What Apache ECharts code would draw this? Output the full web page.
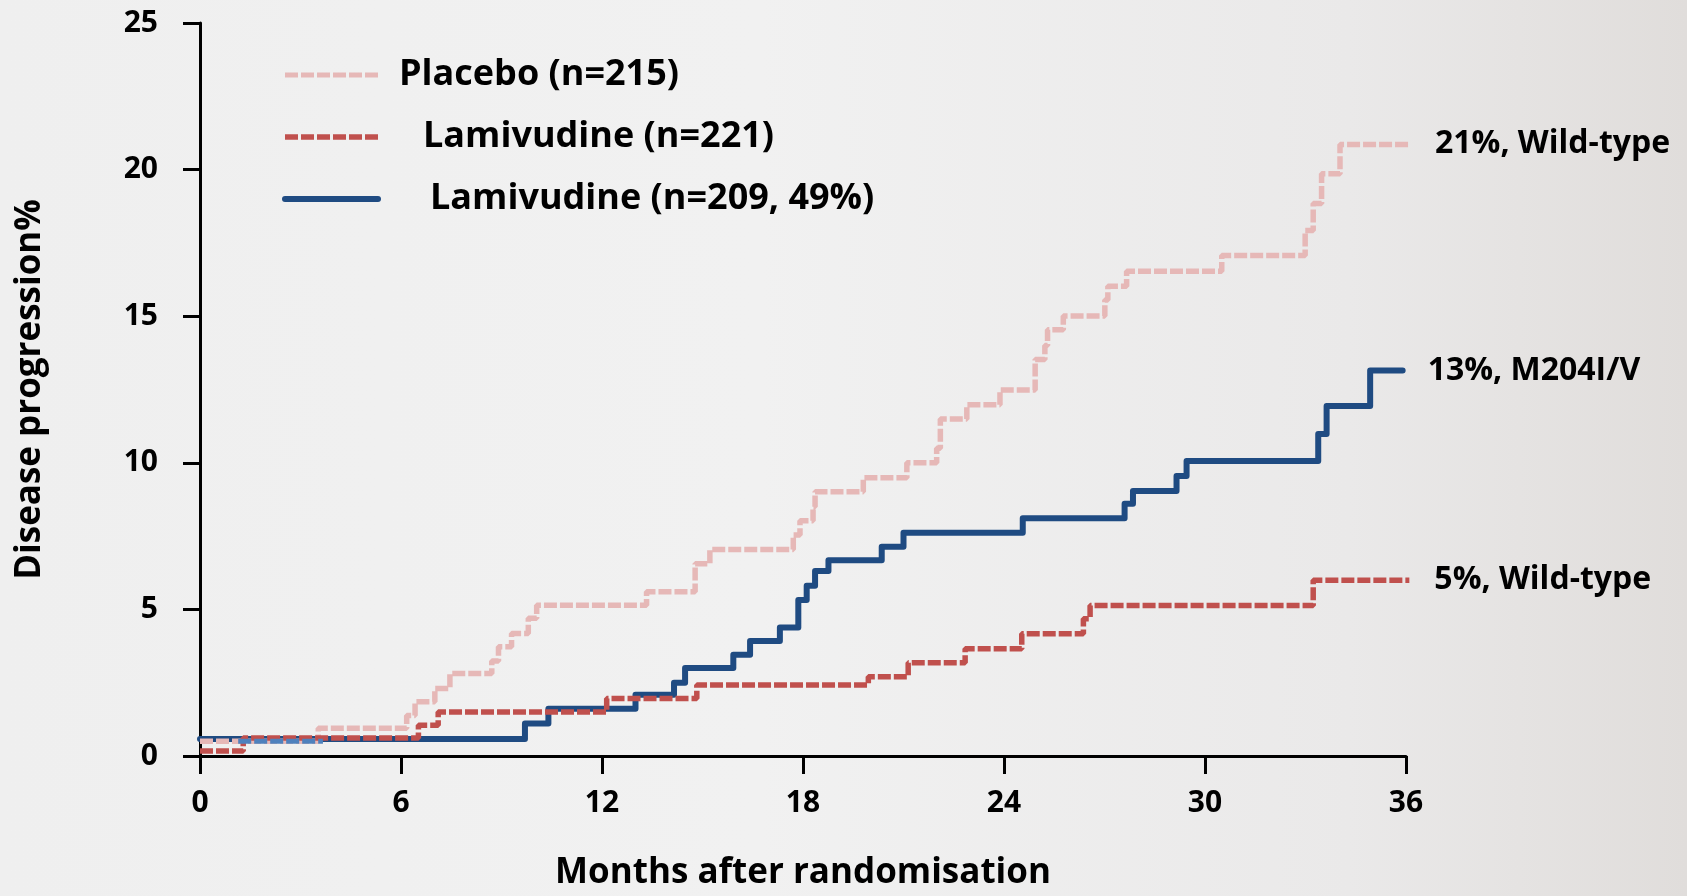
<!DOCTYPE html>
<html>
<head>
<meta charset="utf-8">
<script src="https://cdn.jsdelivr.net/npm/echarts@6/dist/echarts.min.js"></script>
<style>
  html, body { margin: 0; padding: 0; width: 1687px; height: 896px; overflow: hidden;
    background: linear-gradient(90deg, #efefef 0%, #f1f1f1 45%, #eae9e9 80%, #e0dddb 100%); }
  #chart { width: 1687px; height: 896px; }
</style>
</head>
<body>
<div id="chart"></div>
<script>
// ---- data ----
const xTicks = [0, 6, 12, 18, 24, 30, 36];
const yTicks = [0, 5, 10, 15, 20, 25];

const placeboName = 'Placebo (n=215)';
const placeboT = [0, 3.53, 6.17, 6.42, 7.01, 7.46, 8.71, 8.91, 9.30, 9.80, 10.05, 13.33, 14.78, 15.22, 17.71, 17.91, 18.30, 18.36, 19.80, 21.10, 21.99, 22.10, 22.89, 23.88, 24.93, 25.22, 25.30, 25.77, 27.01, 27.10, 27.66, 30.50, 32.99, 33.23, 33.48, 34.03, 36.2];
const placeboV = [0.50, 0.95, 1.38, 1.85, 2.30, 2.81, 3.24, 3.73, 4.18, 4.70, 5.14, 5.60, 6.56, 7.04, 7.54, 8.02, 8.50, 9.01, 9.49, 10.00, 10.50, 11.49, 11.98, 12.48, 13.52, 14.00, 14.54, 15.01, 15.55, 16.02, 16.53, 17.07, 17.92, 18.84, 19.86, 20.86, 20.86];

const lamWtName = 'Lamivudine (n=221)';
const lamWtT = [0, 1.29, 6.52, 7.11, 12.14, 14.83, 19.95, 21.14, 22.84, 24.53, 26.37, 26.57, 33.23, 36.1];
const lamWtV = [0.17, 0.61, 1.05, 1.50, 1.96, 2.42, 2.70, 3.18, 3.66, 4.17, 4.68, 5.13, 5.99, 5.99];

const lamMutName = 'Lamivudine (n=209, 49%)';
const lamMutT = [0, 9.70, 10.40, 13.00, 14.15, 14.48, 15.92, 16.42, 17.31, 17.86, 18.11, 18.36, 18.76, 20.35, 21.00, 24.56, 27.60, 27.85, 29.15, 29.45, 33.38, 33.63, 34.93, 35.9];
const lamMutV = [0.58, 1.11, 1.61, 2.09, 2.50, 3.00, 3.45, 3.92, 4.38, 5.32, 5.81, 6.31, 6.68, 7.14, 7.61, 8.11, 8.60, 9.04, 9.55, 10.06, 10.98, 11.94, 13.15, 13.15];

const lightT = [1.14, 3.67];
const lightV = [0.50, 0.50];

const endLabels = { placebo: '21%, Wild-type', lamMut: '13%, M204I/V', lamWt: '5%, Wild-type' };

// ---- chart ----
const FONT = "'Open Sans', 'Liberation Sans', sans-serif";
const zip = (t, v) => t.map((x, i) => [x, v[i]]);
const endLabel = (txt) => ({ show: true, formatter: txt, color: '#000', fontSize: 32, fontWeight: 'bold', fontFamily: FONT, distance: 25 });

const chart = echarts.init(document.getElementById('chart'), null, { renderer: 'canvas' });
const pads = {}; pads[placeboName] = 16; pads[lamWtName] = 40; pads[lamMutName] = 47;
const richKeys = {}; richKeys[placeboName] = 'a'; richKeys[lamWtName] = 'b'; richKeys[lamMutName] = 'c';
const richBase = { fontSize: 36, fontWeight: 'bold', fontFamily: FONT, color: '#000', lineHeight: 40 };

chart.setOption({
  animation: false,
  backgroundColor: 'transparent',
  grid: { left: 200, right: 281, top: 23, bottom: 132, containLabel: false },
  legend: {
    data: [
      { name: placeboName, lineStyle: { width: 5 } },
      { name: lamWtName, lineStyle: { width: 5.5 } },
      { name: lamMutName, lineStyle: { width: 6 } }
    ],
    orient: 'vertical', left: 277, top: 50,
    itemWidth: 93, itemHeight: 14, itemGap: 22,
    itemStyle: { opacity: 0 },
    formatter: (name) => '{' + richKeys[name] + '|' + name + '}',
    textStyle: {
      fontSize: 36, fontWeight: 'bold', fontFamily: FONT, color: '#000', lineHeight: 40,
      rich: {
        a: Object.assign({ padding: [0, 0, 0, pads[placeboName]] }, richBase),
        b: Object.assign({ padding: [0, 0, 0, pads[lamWtName]] }, richBase),
        c: Object.assign({ padding: [0, 0, 0, pads[lamMutName]] }, richBase)
      }
    },
    selectedMode: false
  },
  xAxis: {
    type: 'value', min: 0, max: 36, interval: 6,
    name: 'Months after randomisation', nameLocation: 'middle', nameGap: 100,
    nameTextStyle: { fontSize: 35, fontWeight: 'bold', fontFamily: FONT, color: '#000' },
    axisLine: { show: true, onZero: false, lineStyle: { color: '#000', width: 3 } },
    axisTick: { show: true, inside: false, length: 18, lineStyle: { color: '#000', width: 3 } },
    axisLabel: { margin: 32, fontSize: 30, fontWeight: 'bold', fontFamily: FONT, color: '#000',
      formatter: (v) => xTicks.includes(v) ? String(v) : '' },
    splitLine: { show: false }
  },
  yAxis: {
    type: 'value', min: 0, max: 25, interval: 5,
    name: 'Disease progression%', nameLocation: 'middle', nameRotate: 90, nameGap: 152,
    nameTextStyle: { fontSize: 35, fontWeight: 'bold', fontFamily: FONT, color: '#000' },
    axisLine: { show: true, lineStyle: { color: '#000', width: 3 } },
    axisTick: { show: true, inside: false, length: 17, lineStyle: { color: '#000', width: 3 } },
    axisLabel: { margin: 42, fontSize: 30, fontWeight: 'bold', fontFamily: FONT, color: '#000',
      formatter: (v) => yTicks.includes(v) ? String(v) : '' },
    splitLine: { show: false }
  },
  series: [
    {
      name: lamMutName, type: 'line', step: 'end', symbol: 'none', clip: false,
      data: zip(lamMutT, lamMutV),
      color: '#1f4b82',
      lineStyle: { color: '#1f4b82', width: 6, cap: 'round', join: 'round' },
      endLabel: endLabel(endLabels.lamMut), z: 2
    },
    {
      name: placeboName, type: 'line', step: 'end', symbol: 'none', clip: false,
      data: zip(placeboT, placeboV),
      color: '#e6b8b7',
      lineStyle: { color: '#e6b8b7', width: 5.5, type: [13, 3], cap: 'butt' },
      endLabel: endLabel(endLabels.placebo), z: 3
    },
    {
      name: lamWtName, type: 'line', step: 'end', symbol: 'none', clip: false,
      data: zip(lamWtT, lamWtV),
      color: '#c0504d',
      lineStyle: { color: '#c0504d', width: 5.5, type: [13, 3], cap: 'butt' },
      endLabel: endLabel(endLabels.lamWt), z: 4
    },
    {
      name: 'Lamivudine (light)', type: 'line', symbol: 'none', clip: false,
      data: zip(lightT, lightV),
      color: '#4f81bd',
      lineStyle: { color: '#4f81bd', width: 5, type: [13, 3] }, z: 5
    }
  ]
});
</script>
</body>
</html>
